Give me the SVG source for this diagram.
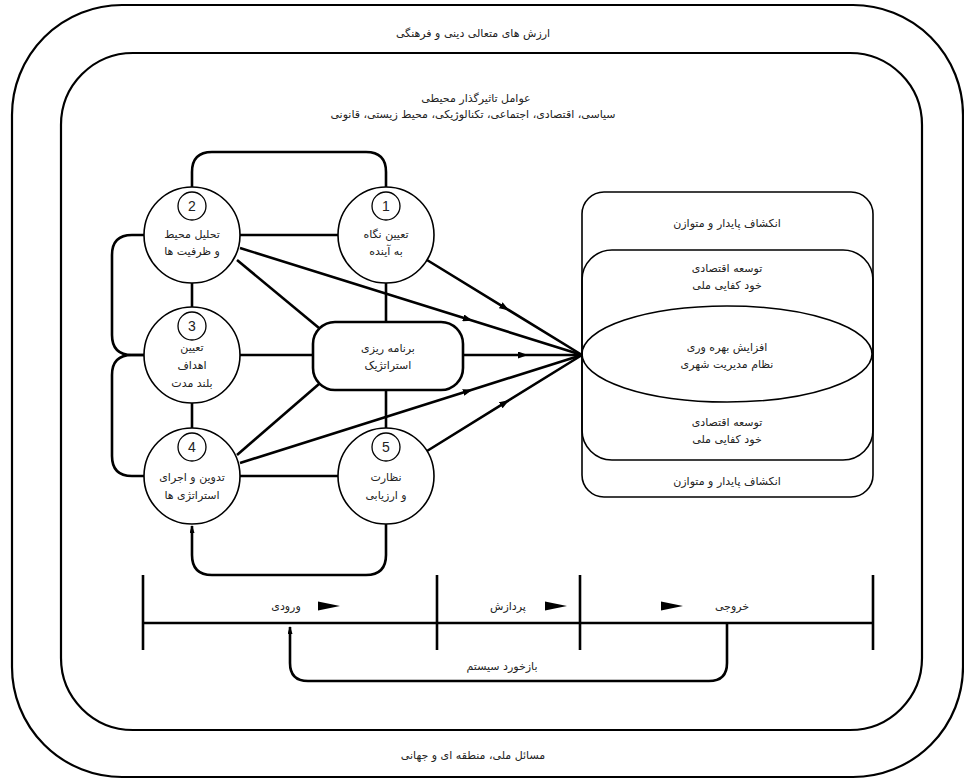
<svg xmlns="http://www.w3.org/2000/svg" width="964" height="780" viewBox="0 0 964 780">
<defs>
<style>
.frame{fill:none;stroke:#000;stroke-width:2.2}
.c{fill:none;stroke:#000;stroke-width:2.6}
.thin{fill:none;stroke:#000;stroke-width:1.6}
.node{fill:#fff;stroke:#000;stroke-width:1.6}
.num{fill:#fff;stroke:#000;stroke-width:1.3}
.t{font-family:"DejaVu Sans","Noto Sans",sans-serif;font-size:11px;fill:#222;text-anchor:middle}
.n{font-family:"Liberation Sans",Arial,sans-serif;font-size:14px;fill:#222;text-anchor:middle}
</style>
<marker id="mid" viewBox="0 0 10 7" markerWidth="10" markerHeight="7" refX="5" refY="3.5" orient="auto" markerUnits="userSpaceOnUse">
<path d="M0,0 L10,3.5 L0,7 z" fill="#000"/>
</marker>
<marker id="tip" viewBox="0 0 8 5" markerWidth="8" markerHeight="5" refX="7" refY="2.5" orient="auto" markerUnits="userSpaceOnUse">
<path d="M0,0 L8,2.5 L0,5 z" fill="#000"/>
</marker>
<path id="tri" d="M0,-4.5 L22,0 L0,4.5 z" fill="#000"/>
</defs>
<rect width="964" height="780" fill="#fff"/>

<g id="outer-frame">
<rect class="frame" x="12" y="5" width="951" height="772" rx="110" ry="110"/>
<text class="t" x="473" y="37">ارزش های متعالی دینی و فرهنگی</text>
<text class="t" x="473" y="759">مسائل ملی، منطقه ای و جهانی</text>
</g>

<g id="inner-frame">
<rect class="frame" x="61" y="53" width="861" height="677" rx="72" ry="72"/>
<text class="t" x="476" y="102">عوامل تاثیرگذار محیطی</text>
<text class="t" x="473" y="118">سیاسی، اقتصادی، اجتماعی، تکنالوژیکی، محیط زیستی، قانونی</text>
</g>

<g id="connectors">
<path class="c" d="M192,188 V172 Q192,152 212,152 H366 Q386,152 386,172 V188"/>
<path class="c" d="M240,235 H338"/>
<path class="c" d="M192,283 V307"/>
<path class="c" d="M192,403 V428"/>
<path class="c" d="M386,283 V322"/>
<path class="c" d="M386,390 V428"/>
<path class="c" d="M240,355 H313"/>
<path class="c" d="M240,476 H338"/>
<path class="c" d="M144,235 H132 Q112,235 112,255 V335 Q112,355 132,355 H144"/>
<path class="c" d="M144,355 H132 Q112,355 112,375 V456 Q112,476 132,476 H144"/>
<path class="c" d="M237,260 L319,328"/>
<path class="c" d="M237,455 L319,384"/>
<path class="c" d="M240,248 L468,319.3 L582,355" marker-mid="url(#mid)"/>
<path class="c" d="M427,260 L505,307.8 L582,355" marker-mid="url(#mid)"/>
<path class="c" d="M463,355 L523,355 L582,355" marker-mid="url(#mid)"/>
<path class="c" d="M240,463 L468,391 L582,355" marker-mid="url(#mid)"/>
<path class="c" d="M427,451 L505,402.7 L582,355" marker-mid="url(#mid)"/>
<path class="c" d="M386,524 V555 Q386,575 366,575 H212 Q192,575 192,555 V526" marker-end="url(#tip)"/>
</g>

<g id="node-1">
<circle class="node" cx="386" cy="235" r="48"/>
<circle class="num" cx="386" cy="206" r="14"/>
<text class="n" x="386" y="211">1</text>
<text class="t" x="386" y="238">تعیین نگاه</text>
<text class="t" x="386" y="255">به آینده</text>
</g>

<g id="node-2">
<circle class="node" cx="192" cy="235" r="48"/>
<circle class="num" cx="192" cy="206" r="14"/>
<text class="n" x="192" y="211">2</text>
<text class="t" x="192" y="238">تحلیل محیط</text>
<text class="t" x="192" y="255">و ظرفیت ها</text>
</g>

<g id="node-3">
<circle class="node" cx="192" cy="355" r="48"/>
<circle class="num" cx="192" cy="326" r="14"/>
<text class="n" x="192" y="331">3</text>
<text class="t" x="192" y="351">تعیین</text>
<text class="t" x="192" y="369">اهداف</text>
<text class="t" x="192" y="387">بلند مدت</text>
</g>

<g id="node-4">
<circle class="node" cx="192" cy="476" r="48"/>
<circle class="num" cx="192" cy="447" r="14"/>
<text class="n" x="192" y="452">4</text>
<text class="t" x="192" y="481">تدوین و اجرای</text>
<text class="t" x="192" y="499">استراتژی ها</text>
</g>

<g id="node-5">
<circle class="node" cx="386" cy="476" r="48"/>
<circle class="num" cx="386" cy="447" r="14"/>
<text class="n" x="386" y="452">5</text>
<text class="t" x="386" y="481">نظارت</text>
<text class="t" x="386" y="499">و ارزیابی</text>
</g>

<g id="node-strategic-planning">
<rect class="c" x="313" y="322" width="150" height="68" rx="22" ry="22" fill="#fff" style="fill:#fff"/>
<text class="t" x="388" y="352">برنامه ریزی</text>
<text class="t" x="388" y="369">استراتژیک</text>
</g>

<g id="node-outputs">
<rect class="thin" x="582" y="192" width="291" height="305" rx="22" ry="22"/>
<rect class="thin" x="582" y="250" width="291" height="210" rx="30" ry="30"/>
<ellipse class="thin" cx="727" cy="354" rx="145" ry="48"/>
<text class="t" x="727" y="227">انکشاف پایدار و متوازن</text>
<text class="t" x="727" y="272">توسعه اقتصادی</text>
<text class="t" x="727" y="289">خود کفایی ملی</text>
<text class="t" x="727" y="351">افزایش بهره وری</text>
<text class="t" x="727" y="368">نظام مدیریت شهری</text>
<text class="t" x="727" y="426">توسعه اقتصادی</text>
<text class="t" x="727" y="443">خود کفایی ملی</text>
<text class="t" x="727" y="485">انکشاف پایدار و متوازن</text>
</g>

<g id="system-bar">
<path class="c" d="M143,575 V650 M437,575 V650 M580,575 V650 M873,575 V650 M143,623 H873"/>
<use href="#tri" x="318" y="606"/>
<use href="#tri" x="545" y="606"/>
<use href="#tri" x="661" y="606"/>
<text class="t" x="286" y="610">ورودی</text>
<text class="t" x="508" y="610">پردازش</text>
<text class="t" x="732" y="610">خروجی</text>
</g>

<g id="feedback">
<path class="c" d="M727,623 V663 Q727,681 709,681 H308 Q290,681 290,663 V627" marker-end="url(#tip)"/>
<text class="t" x="502" y="670">بازخورد سیستم</text>
</g>
</svg>
